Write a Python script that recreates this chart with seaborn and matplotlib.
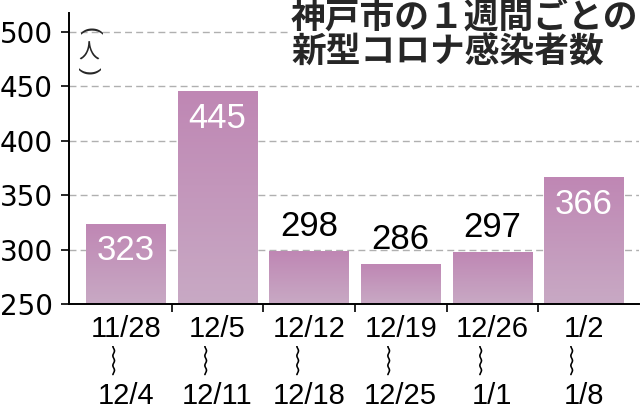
import numpy as np
import pandas as pd
import matplotlib
matplotlib.use("Agg")
import matplotlib.pyplot as plt
from matplotlib.colors import LinearSegmentedColormap
import seaborn as sns

# weekly new COVID cases in Kobe
week_start = ["11/28", "12/5", "12/12", "12/19", "12/26", "1/2"]
week_end = ["12/4", "12/11", "12/18", "12/25", "1/1", "1/8"]
cases = [323, 445, 298, 286, 297, 366]
yticks = [250, 300, 350, 400, 450, 500]
title = "神戸市の１週間ごとの\n新型コロナ感染者数"
unit = "人"

sns.set_theme(style="white")
plt.rcParams["font.family"] = ["Liberation Sans", "Noto Sans CJK JP", "DejaVu Sans"]
jp = ["Noto Sans CJK JP", "DejaVu Sans"]

df = pd.DataFrame({
    "week": [f"{s}\n︴\n{e}" for s, e in zip(week_start, week_end)],
    "cases": cases,
})

fig = plt.figure(figsize=(6.4, 4.11), dpi=100)
ax = fig.add_axes([69 / 640, 1 - 304 / 411, 570 / 640, 291 / 411])

sns.barplot(data=df, x="week", y="cases", width=0.87, color="#c49ac0",
            saturation=1, ax=ax, zorder=2)

ylim = (250, 517.5)
xlim = (-0.62, 5.6)

# vertical gradient on each bar
cmap = LinearSegmentedColormap.from_list("bar", ["#c8a9c4", "#bf87b4"])
grad = np.linspace(0, 1, 128).reshape(-1, 1)
for p in ax.patches:
    x0, y0 = p.get_x(), ylim[0]
    x1, y1 = x0 + p.get_width(), p.get_y() + p.get_height()
    ax.imshow(grad, extent=[x0, x1, y0, y1], origin="lower", cmap=cmap,
              aspect="auto", zorder=2.1, interpolation="bilinear")
    p.set_facecolor("none")
    p.set_edgecolor("none")

ax.set_xlim(*xlim)
ax.set_ylim(*ylim)

# value labels
for i, v in enumerate(cases):
    if v > 320:
        ax.annotate(str(v), (i, v), xytext=(0, -19), textcoords="offset points",
                    ha="center", va="center", fontsize=25, color="white", zorder=4)
    else:
        ax.annotate(str(v), (i, v), xytext=(0, 18), textcoords="offset points",
                    ha="center", va="center", fontsize=25, color="black", zorder=4)

# axes styling
sns.despine(ax=ax)
for s in ["left", "bottom"]:
    ax.spines[s].set_color("black")
    ax.spines[s].set_linewidth(1.4)

ax.set_yticks(yticks)
ax.set_yticklabels([str(t) for t in yticks], fontfamily="DejaVu Sans")
ax.tick_params(axis="y", left=True, length=5.5, width=1.2, pad=6, labelsize=20,
               colors="black")
ax.yaxis.grid(True, linestyle=(0, (5, 3)), color="#b0b0b0", linewidth=1)
ax.set_axisbelow(True)

ax.set_xticks([i + 0.5 for i in range(len(cases) - 1)])
ax.set_xticklabels([])
ax.set_xticks(range(len(cases)), minor=True)
ax.set_xticklabels(df["week"], minor=True, fontsize=21, linespacing=1.22)
ax.tick_params(axis="x", which="major", bottom=True, length=6, width=1.2,
               direction="out", color="black")
ax.tick_params(axis="x", which="minor", bottom=True, length=0, pad=8,
               labelcolor="black")
ax.set_xlabel("")
ax.set_ylabel("")

# unit label (vertical)
fig.text(89 / 640, 1 - 31 / 411, "(", family="Liberation Sans", fontsize=17,
         rotation=-90, ha="center", va="center")
fig.text(89 / 640, 1 - 53 / 411, unit, family=jp, fontsize=15,
         ha="center", va="center")
fig.text(89 / 640, 1 - 71 / 411, ")", family="Liberation Sans", fontsize=17,
         rotation=-90, ha="center", va="center")

# title
fig.text(291 / 640, 1 - 0 / 411, title, family=jp, fontweight="bold",
         fontsize=25, ha="left", va="top", linespacing=1.0,
         bbox=dict(facecolor="white", edgecolor="none", pad=2))

fig.savefig("out.png", dpi=100)
